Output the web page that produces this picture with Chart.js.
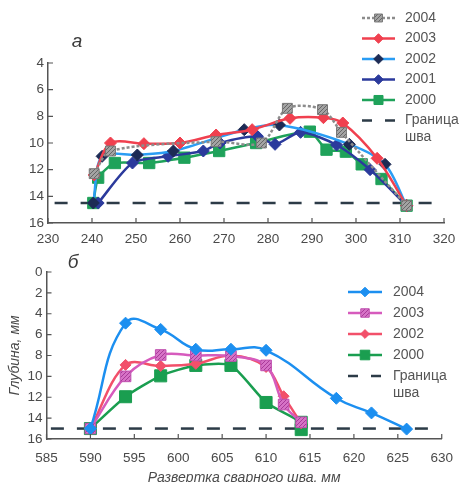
<!DOCTYPE html>
<html>
<head>
<meta charset="utf-8">
<script src="https://cdn.jsdelivr.net/npm/chart.js@4.4.0/dist/chart.umd.min.js"></script>
<style>
  html, body { margin: 0; padding: 0; background: #fff; }
  #wrap { position: relative; width: 464px; height: 482px; overflow: hidden; }
  #topBox { position: absolute; left: 0; top: 0; width: 464px; height: 250px; }
  #botBox { position: absolute; left: 0; top: 250px; width: 464px; height: 232px; }
</style>
</head>
<body>
<div id="wrap">
  <div id="topBox"><canvas id="chartA"></canvas></div>
  <div id="botBox"><canvas id="chartB"></canvas></div>
</div>
<script>
// ---- chart "а" (top) ----
var a2004x = [240.5, 244.2, 268.2, 278.5, 284.4, 292.4, 296.7, 311.5];
var a2004y = [12.3, 10.6, 9.9, 10.0, 7.4, 7.5, 9.2, 14.7];
var a2003x = [240.5, 244.2, 251.8, 260, 268.2, 276.4, 285, 292.6, 297, 304.8, 311.5];
var a2003y = [12.4, 10.0, 10.05, 10.0, 9.4, 9.0, 8.15, 8.1, 8.5, 11.15, 14.7];
var a2002x = [240.3, 242.3, 250.3, 258.5, 274.6, 282.6, 298.5, 306.6, 311.5];
var a2002y = [14.5, 11.0, 10.9, 10.6, 9.0, 8.65, 10.1, 11.6, 14.7];
var a2001x = [241.4, 249.2, 257.3, 265.3, 269.1, 277.6, 281.6, 287.4, 295.6, 303.2, 311.5];
var a2001y = [14.5, 11.5, 11.0, 10.6, 10.0, 9.5, 10.1, 9.2, 10.15, 12.0, 14.7];
var a2000x = [240.3, 241.4, 245.2, 253, 261, 268.9, 277.3, 289.5, 293.3, 297.7, 301.3, 305.8, 311.5];
var a2000y = [14.5, 12.6, 11.5, 11.5, 11.1, 10.6, 10.0, 9.15, 10.5, 10.65, 11.6, 12.7, 14.7];
var aBoundX = [231.5, 320];
var aBoundY = [14.5, 14.5];

// ---- chart "б" (bottom) ----
var b2004x = [590, 594, 598, 602, 606, 610, 618, 622, 626];
var b2004y = [15, 4.9, 5.5, 7.4, 7.4, 7.5, 12.1, 13.5, 15.05];
var b2003x = [590, 594, 598, 602, 606, 610, 612, 614];
var b2003y = [15, 10, 7.95, 8.0, 8.05, 8.95, 12.7, 14.4];
var b2002x = [590, 594, 598, 602, 606, 610, 612, 614];
var b2002y = [15, 8.9, 9.0, 8.8, 8.0, 9.1, 11.9, 14.5];
var b2000x = [590, 594, 598, 602, 606, 610, 614, 614];
var b2000y = [15, 11.95, 9.95, 8.95, 8.95, 12.5, 14.4, 15.1];
var bBoundX = [585.5, 629.5];
var bBoundY = [15, 15];

var boundLabel = ['Граница', 'шва'];
var yTitleB = 'Глубина, мм';
var xTitleB = 'Развертка сварного шва, мм';

var FONT = '"Liberation Sans", Arial, sans-serif';
Chart.defaults.font.family = FONT;
Chart.defaults.font.size = 13.5;
Chart.defaults.color = '#4a4a4a';

function pts(xs, ys) {
  return xs.map(function (x, i) { return { x: x, y: ys[i] }; });
}

function hatch(bg, fg) {
  var c = document.createElement('canvas');
  c.width = 4; c.height = 4;
  var g = c.getContext('2d');
  g.fillStyle = bg; g.fillRect(0, 0, 4, 4);
  g.strokeStyle = fg; g.lineWidth = 1;
  g.beginPath(); g.moveTo(0, 4); g.lineTo(4, 0); g.stroke();
  return g.createPattern(c, 'repeat');
}

function series(label, xs, ys, line, dot, style, r, tension, dash, dotBorder) {
  return {
    label: label,
    data: pts(xs, ys),
    borderColor: line,
    borderWidth: 2.5,
    borderDash: dash || [],
    pointStyle: style,
    pointRadius: r,
    pointBackgroundColor: dot,
    pointBorderColor: dotBorder || dot,
    pointBorderWidth: 1,
    tension: tension,
    fill: false
  };
}

function boundary(xs, ys) {
  return {
    label: 'bound',
    data: pts(xs, ys),
    borderColor: '#2c3b47',
    borderWidth: 2.5,
    borderDash: [13, 13],
    pointRadius: 0,
    tension: 0,
    order: 100,
    fill: false
  };
}

// short inward tick marks on both axes
var innerTicks = {
  id: 'innerTicks',
  afterDraw: function (chart) {
    var ctx = chart.ctx, a = chart.chartArea;
    var xs = chart.scales.x, ys = chart.scales.y;
    ctx.save();
    ctx.strokeStyle = '#555';
    ctx.lineWidth = 1.2;
    ctx.beginPath();
    xs.ticks.forEach(function (t) {
      var px = xs.getPixelForValue(t.value);
      ctx.moveTo(px, a.bottom); ctx.lineTo(px, a.bottom - 5);
    });
    ys.ticks.forEach(function (t) {
      var py = ys.getPixelForValue(t.value);
      ctx.moveTo(a.left, py); ctx.lineTo(a.left + 5, py);
    });
    ctx.stroke();
    ctx.restore();
  }
};

function marker(ctx, style, x, y, r) {
  ctx.beginPath();
  if (style === 'rect') {
    var s = r * Math.SQRT1_2;
    ctx.rect(x - s, y - s, 2 * s, 2 * s);
  } else {
    ctx.moveTo(x, y - r); ctx.lineTo(x + r, y); ctx.lineTo(x, y + r); ctx.lineTo(x - r, y);
    ctx.closePath();
  }
  ctx.fill();
  ctx.stroke();
}

// legend at the right side + panel letter
var sideLegend = {
  id: 'sideLegend',
  afterDraw: function (chart, args, o) {
    var ctx = chart.ctx;
    ctx.save();
    ctx.font = '14px ' + FONT;
    ctx.textBaseline = 'middle';
    chart.data.datasets.forEach(function (ds, i) {
      var y = o.y0 + i * o.step;
      ctx.lineWidth = ds.borderWidth;
      ctx.strokeStyle = ds.borderColor;
      if (ds.label === 'bound') {
        ctx.setLineDash([10, 13]);
        ctx.beginPath(); ctx.moveTo(o.x0, y); ctx.lineTo(o.x1, y); ctx.stroke();
        ctx.setLineDash([]);
        ctx.fillStyle = '#555';
        ctx.fillText(boundLabel[0], o.tx, y);
        ctx.fillText(boundLabel[1], o.tx, y + o.step * 0.8);
        return;
      }
      ctx.setLineDash(ds.borderDash || []);
      ctx.beginPath(); ctx.moveTo(o.x0, y); ctx.lineTo(o.x1, y); ctx.stroke();
      ctx.setLineDash([]);
      ctx.fillStyle = ds.pointBackgroundColor;
      ctx.strokeStyle = ds.pointBorderColor;
      ctx.lineWidth = 1;
      marker(ctx, ds.pointStyle, (o.x0 + o.x1) / 2, y, ds.pointRadius * 0.8);
      ctx.fillStyle = '#555';
      ctx.fillText(ds.label, o.tx, y);
    });
    ctx.font = 'italic 19px ' + FONT;
    ctx.fillStyle = '#3a3a3a';
    ctx.textBaseline = 'middle';
    ctx.textAlign = 'center';
    ctx.fillText(o.letter, o.lx, o.ly);
    ctx.restore();
  }
};

function scales(xmin, xmax, xstep, ymin, ymax, yw, xh, xpad, xtitle, ytitle) {
  return {
    x: {
      type: 'linear', min: xmin, max: xmax,
      grid: { display: false, drawTicks: false },
      border: { display: true, color: '#555', width: 1.5 },
      ticks: { stepSize: xstep, padding: xpad, maxRotation: 0, autoSkip: false, color: '#4a4a4a' },
      title: xtitle ? { display: true, text: xtitle, font: { style: 'italic', size: 14 }, color: '#4a4a4a', padding: { top: 0, bottom: -5 } } : { display: false },
      afterFit: function (s) { s.height = xh; }
    },
    y: {
      type: 'linear', min: ymin, max: ymax, reverse: true,
      grid: { display: false, drawTicks: false },
      border: { display: true, color: '#555', width: 1.5 },
      ticks: { stepSize: 2, padding: 4, color: '#4a4a4a' },
      title: ytitle ? { display: true, text: ytitle, font: { style: 'italic', size: 14 }, color: '#4a4a4a', padding: { top: 7, bottom: 0 } } : { display: false },
      afterFit: function (s) { s.width = yw; }
    }
  };
}

var dotGray = hatch('#a3a3a3', '#666');
var dotPink = hatch('#d672c6', '#a83a98');

new Chart(document.getElementById('chartA'), {
  type: 'line',
  data: {
    datasets: [
      series('2004', a2004x, a2004y, '#8c8c8c', dotGray, 'rect', 7, 0.3, [3, 2], '#777'),
      series('2003', a2003x, a2003y, '#f0404f', '#f0404f', 'rectRot', 6, 0.3),
      series('2002', a2002x, a2002y, '#2a9df4', '#1d2b55', 'rectRot', 6, 0.3),
      series('2001', a2001x, a2001y, '#2b3a9c', '#2b3a9c', 'rectRot', 6, 0.25),
      series('2000', a2000x, a2000y, '#1fa25a', '#1fa25a', 'rect', 8, 0.2),
      boundary(aBoundX, aBoundY)
    ]
  },
  options: {
    responsive: true,
    maintainAspectRatio: false,
    animation: false,
    layout: { padding: { left: 0, right: 20, top: 63, bottom: 0 } },
    scales: scales(230, 320, 10, 4, 16, 48, 27, 8),
    plugins: {
      legend: { display: false },
      tooltip: { enabled: false },
      sideLegend: { x0: 362, x1: 395, tx: 405, y0: 18, step: 20.5, letter: 'а', lx: 77, ly: 42 }
    }
  },
  plugins: [innerTicks, sideLegend]
});

new Chart(document.getElementById('chartB'), {
  type: 'line',
  data: {
    datasets: [
      series('2004', b2004x, b2004y, '#1c8ff0', '#1c8ff0', 'rectRot', 6, 0.45),
      series('2003', b2003x, b2003y, '#d65bbd', dotPink, 'rect', 7.5, 0.35, [], '#c050b0'),
      series('2002', b2002x, b2002y, '#f2506a', '#f2506a', 'rectRot', 5.5, 0.35),
      series('2000', b2000x, b2000y, '#1a9e50', '#1a9e50', 'rect', 8.5, 0.2),
      boundary(bBoundX, bBoundY)
    ]
  },
  options: {
    responsive: true,
    maintainAspectRatio: false,
    animation: false,
    layout: { padding: { left: 0, right: 19, top: 22, bottom: 0 } },
    scales: scales(585, 630, 5, 0, 16, 46.5, 43, 11, xTitleB, yTitleB),
    plugins: {
      legend: { display: false },
      tooltip: { enabled: false },
      sideLegend: { x0: 348, x1: 382, tx: 393, y0: 42, step: 21, letter: 'б', lx: 73, ly: 13 }
    }
  },
  plugins: [innerTicks, sideLegend]
});
</script>
</body>
</html>
